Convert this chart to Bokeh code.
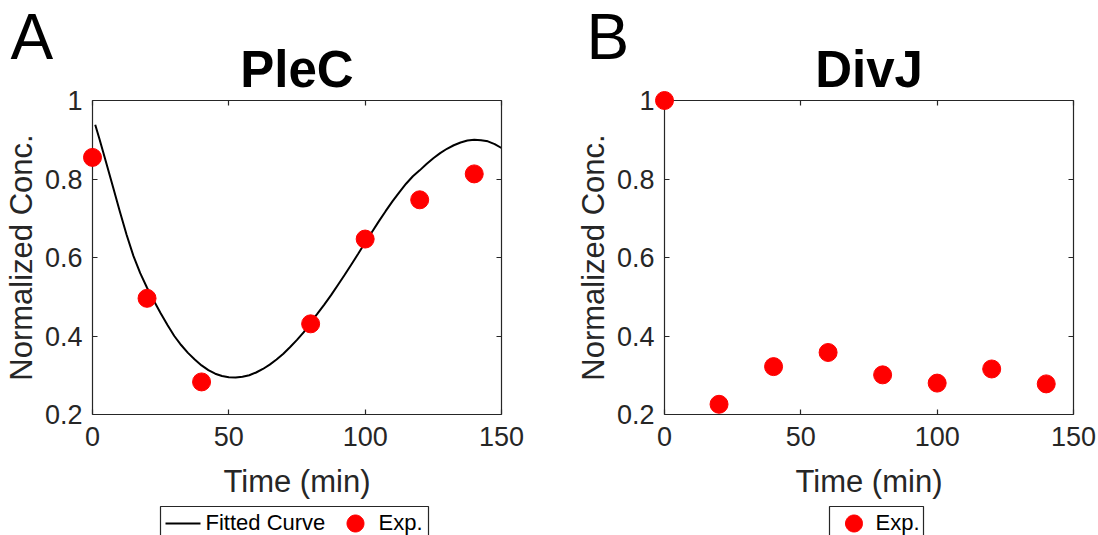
import numpy as np
from bokeh.plotting import figure
from bokeh.models import LinearAxis, Range1d, FixedTicker, CustomJSTickFormatter
from bokeh.core.properties import value
from bokeh.layouts import row
from bokeh.embed import file_html
from bokeh.resources import INLINE

FONT = "Liberation Sans"
AX = "#262626"
RED = "#FF0000"

# ---- data ----
plec_t = [0, 20, 40, 80, 100, 120, 140]
plec_v = [0.855, 0.496, 0.283, 0.431, 0.647, 0.747, 0.813]

fit_t = [1, 2.5, 5, 7.5, 10, 12.5, 15, 17.5, 20, 22.5, 25, 27.5, 30, 32.5, 35, 37.5,
         40, 42.5, 45, 47.5, 50, 52.5, 55, 57.5, 60, 62.5, 65, 67.5, 70, 72.5, 75,
         77.5, 80, 82.5, 85, 87.5, 90, 92.5, 95, 97.5, 100, 102.5, 105, 107.5, 110,
         112.5, 115, 117.5, 120, 122.5, 125, 127.5, 130, 132.5, 135, 137.5, 140,
         142.5, 145, 147.5, 150]
fit_v = [0.938, 0.903, 0.842, 0.78, 0.718, 0.658, 0.604, 0.56, 0.523, 0.49, 0.458,
         0.428, 0.40, 0.377, 0.357, 0.34, 0.325, 0.313, 0.304, 0.298, 0.295, 0.294,
         0.296, 0.30, 0.307, 0.316, 0.327, 0.34, 0.355, 0.372, 0.39, 0.41, 0.435,
         0.457, 0.48, 0.504, 0.53, 0.556, 0.583, 0.61, 0.638, 0.665, 0.692, 0.718,
         0.743, 0.766, 0.788, 0.807, 0.822, 0.838, 0.853, 0.866, 0.877, 0.886,
         0.893, 0.898, 0.90, 0.899, 0.896, 0.889, 0.879]

divj_t = [0, 20, 40, 60, 80, 100, 120, 140]
divj_v = [1.0, 0.226, 0.322, 0.358, 0.301, 0.280, 0.316, 0.278]

x_ticks = [0, 50, 100, 150]
y_ticks = [0.2, 0.4, 0.6, 0.8, 1.0]

X0, X1, Y0, Y1 = 0, 150, 0.2, 1.0
H = 535
FRAME_TOP, FRAME_BOTTOM = 100, 414
FRAME_W = 409
FRAME_H = FRAME_BOTTOM - FRAME_TOP


def style_axis(ax, ticks):
    ax.ticker = FixedTicker(ticks=ticks)
    ax.axis_line_color = AX
    ax.axis_line_width = 1.2
    ax.major_tick_line_color = AX
    ax.major_tick_line_width = 1.2
    ax.major_tick_in = 5
    ax.major_tick_out = 0
    ax.minor_tick_line_color = None


def make_panel(width, frame_left_page, fig_left_page, title, letter, letter_px):
    bl = frame_left_page - fig_left_page
    br = width - bl - FRAME_W
    p = figure(width=width, height=H, x_range=Range1d(X0, X1), y_range=Range1d(Y0, Y1),
               output_backend="svg", toolbar_location=None,
               min_border_left=bl, min_border_right=br, min_border_top=FRAME_TOP,
               min_border_bottom=H - FRAME_BOTTOM,
               x_axis_label="Time (min)", y_axis_label="Normalized Conc.")
    p.grid.visible = False
    p.outline_line_color = None
    p.background_fill_color = "white"
    p.border_fill_color = "white"
    fmt = "return String(Math.round(tick*10)/10)"
    for ax, ticks in ((p.xaxis[0], x_ticks), (p.yaxis[0], y_ticks)):
        style_axis(ax, ticks)
        ax.major_label_text_font = FONT
        ax.major_label_text_color = AX
        ax.major_label_text_font_size = "27px"
        ax.axis_label_text_font = FONT
        ax.axis_label_text_color = AX
        ax.axis_label_text_font_size = "31px"
        ax.axis_label_text_font_style = "normal"
        ax.formatter = CustomJSTickFormatter(code=fmt)
    p.xaxis[0].major_label_standoff = 12
    p.xaxis[0].axis_label_standoff = 15
    p.yaxis[0].major_label_standoff = 10
    p.yaxis[0].axis_label_standoff = 3

    # box sides with inward ticks, no labels
    top_ax = LinearAxis(major_label_text_font_size="8px", major_label_standoff=0)
    right_ax = LinearAxis(major_label_text_font_size="8px", major_label_standoff=0)
    style_axis(top_ax, x_ticks)
    style_axis(right_ax, y_ticks)
    top_ax.formatter = CustomJSTickFormatter(code="return ''")
    right_ax.formatter = CustomJSTickFormatter(code="return ''")
    p.add_layout(top_ax, "above")
    p.add_layout(right_ax, "right")

    # helpers: page pixel -> data coordinate of this panel
    def dx(px):
        return X0 + (px - frame_left_page) * (X1 - X0) / FRAME_W

    def dy(py):
        return Y1 - (py - FRAME_TOP) * (Y1 - Y0) / FRAME_H

    p.text(x=[(X0 + X1) / 2], y=[dy(69)], text=[title], text_font=value(FONT),
           text_font_size="51px", text_font_style="bold", text_color="black",
           text_align="center", text_baseline="alphabetic", level="overlay")
    p.text(x=[dx(letter_px)], y=[dy(36.5)], text=[letter], text_font=value(FONT),
           text_font_size="64px", text_color="black",
           text_align="left", text_baseline="alphabetic", level="overlay")
    return p, dx, dy


def draw_legend(p, dx, dy, box, entries):
    # box: (left, right, top) in page px; entries: (kind, glyph_x, text_x, label)
    p.quad(left=[dx(box[0])], right=[dx(box[1])], top=[dy(box[2])], bottom=[dy(548)],
           fill_color="white", line_color=AX, line_width=1.2, level="overlay")
    ymid_px = 523
    for kind, gx, tx, label in entries:
        if kind == "line":
            p.line(x=[dx(gx[0]), dx(gx[1])], y=[dy(ymid_px), dy(ymid_px)],
                   line_color="black", line_width=2, level="overlay")
        else:
            ang = np.linspace(0, 2 * np.pi, 48)
            r = 8.5
            p.patch(x=[dx(gx + r * np.cos(a)) for a in ang],
                    y=[dy(ymid_px + r * np.sin(a)) for a in ang],
                    fill_color=RED, line_color=RED, level="overlay")
        p.text(x=[dx(tx)], y=[dy(521.5)], text=[label], text_font=value(FONT),
               text_font_size="22px", text_color="black", text_align="left",
               text_baseline="alphabetic", level="overlay")


# Panel A
pa, dxa, dya = make_panel(560, 92, 0, "PleC", "A", 10)
pa.line(fit_t, fit_v, line_color="black", line_width=2)
pa.scatter(plec_t, plec_v, size=18, fill_color=RED, line_color=RED, level="overlay")
draw_legend(pa, dxa, dya, (160, 428, 506),
            [("line", (165, 200), 205, "Fitted Curve"), ("dot", 355, 378, "Exp.")])

# Panel B
pb, dxb, dyb = make_panel(538, 664, 560, "DivJ", "B", 586)
pb.scatter(divj_t, divj_v, size=18, fill_color=RED, line_color=RED, level="overlay")
draw_legend(pb, dxb, dyb, (829, 923, 506), [("dot", 853.5, 875, "Exp.")])

layout = row(pa, pb)
open("out.html", "w").write(file_html(layout, INLINE))
